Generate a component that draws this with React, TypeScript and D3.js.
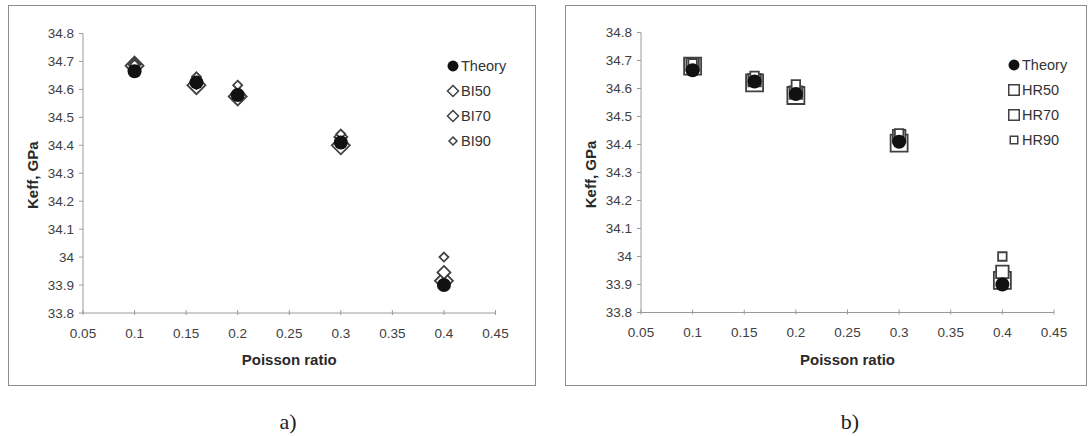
import React from "react";
import * as d3 from "d3";

const poisson = [0.1, 0.16, 0.2, 0.3, 0.4];
const theory = [34.665, 34.625, 34.58, 34.41, 33.9];
const bi50 = [34.685, 34.615, 34.575, 34.4, 33.915];
const bi70 = [34.69, 34.625, 34.585, 34.43, 33.945];
const bi90 = [34.69, 34.645, 34.615, 34.44, 34.0];
const hr50 = [34.68, 34.62, 34.575, 34.405, 33.915];
const hr70 = [34.685, 34.63, 34.585, 34.43, 33.945];
const hr90 = [34.69, 34.645, 34.615, 34.44, 34.0];

const xTicks = [0.05, 0.1, 0.15, 0.2, 0.25, 0.3, 0.35, 0.4, 0.45];
const xTickLabels = ["0.05", "0.1", "0.15", "0.2", "0.25", "0.3", "0.35", "0.4", "0.45"];
const yTicks = [33.8, 33.9, 34.0, 34.1, 34.2, 34.3, 34.4, 34.5, 34.6, 34.7, 34.8];
const yTickLabels = ["33.8", "33.9", "34", "34.1", "34.2", "34.3", "34.4", "34.5", "34.6", "34.7", "34.8"];

const leftNames = ["Theory", "BI50", "BI70", "BI90"];
const rightNames = ["Theory", "HR50", "HR70", "HR90"];

const FONT = "'Liberation Sans', Arial, sans-serif";
const STROKE = "#404040";

type Shape = "diamond" | "square";

function markerPath(shape: Shape, size: number) {
  const h = size / 2;
  if (shape === "diamond") {
    return `M0,${-h}L${h},0L0,${h}L${-h},0Z`;
  }
  return `M${-h},${-h}H${h}V${h}H${-h}Z`;
}

function Panel(props: {
  box: [number, number, number, number];
  plot: [number, number, number, number];
  shape: Shape;
  series: number[][];
  names: string[];
  legendX: number;
  legendY: number[];
  caption: string;
  captionX: number;
}) {
  const { box, plot, shape, series, names, legendX, legendY, caption, captionX } = props;
  const x = d3.scaleLinear().domain([0.05, 0.45]).range([plot[0], plot[1]]);
  const y = d3.scaleLinear().domain([33.8, 34.8]).range([plot[3], plot[2]]);
  const sizes = shape === "diamond" ? [18, 13, 9] : [17, 12.5, 8.5];
  const legendSizes = shape === "diamond" ? [11, 11, 8] : [10.5, 10.5, 7.5];
  const circle = d3.symbol().type(d3.symbolCircle).size(Math.PI * 49)();
  const legendCircle = d3.symbol().type(d3.symbolCircle).size(Math.PI * 30)();
  return (
    <g>
      <rect x={box[0] + 0.5} y={box[1] + 0.5} width={box[2] - box[0]} height={box[3] - box[1]} fill="white" stroke="#8c8c8c" strokeWidth={1} />
      <line x1={plot[0]} x2={plot[0]} y1={plot[2]} y2={plot[3]} stroke="#9a9a9a" strokeWidth={1} />
      <line x1={plot[0]} x2={plot[1]} y1={plot[3]} y2={plot[3]} stroke="#9a9a9a" strokeWidth={1} />
      {yTicks.map((t, i) => (
        <g key={"y" + i}>
          <line x1={plot[0] - 4} x2={plot[0]} y1={y(t)} y2={y(t)} stroke="#9a9a9a" />
          <text x={plot[0] - 9} y={y(t)} dy="0.35em" textAnchor="end" fontFamily={FONT} fontSize={13.5} fill="#404040">
            {yTickLabels[i]}
          </text>
        </g>
      ))}
      {xTicks.map((t, i) => (
        <g key={"x" + i}>
          <line x1={x(t)} x2={x(t)} y1={plot[3] - 3} y2={plot[3] + 2} stroke="#9a9a9a" />
          <text x={x(t)} y={plot[3] + 20} dy="0.35em" textAnchor="middle" fontFamily={FONT} fontSize={13.5} fill="#404040">
            {xTickLabels[i]}
          </text>
        </g>
      ))}
      <text x={(plot[0] + plot[1]) / 2} y={plot[3] + 47} dy="0.35em" textAnchor="middle" fontFamily={FONT} fontSize={15} fontWeight="bold" fill="#2a2a2a">
        Poisson ratio
      </text>
      <text transform={`translate(${plot[0] - 50},${(plot[2] + plot[3]) / 2 + 2}) rotate(-90)`} textAnchor="middle" dy="0.35em" fontFamily={FONT} fontSize={15} fontWeight="bold" fill="#2a2a2a">
        Keff, GPa
      </text>
      {series.slice(1).map((s, si) => (
        <g key={"s" + si}>
          {s.map((v, i) => (
            <path key={i} d={markerPath(shape, sizes[si])} transform={`translate(${x(poisson[i])},${y(v)})`} fill="white" stroke={STROKE} strokeWidth={1.8} />
          ))}
        </g>
      ))}
      {series[0].map((v, i) => (
        <path key={"t" + i} d={circle || ""} transform={`translate(${x(poisson[i])},${y(v)})`} fill="#111" />
      ))}
      {names.map((n, i) => (
        <g key={"l" + i}>
          {i === 0 ? (
            <path d={legendCircle || ""} transform={`translate(${legendX},${legendY[i]})`} fill="#111" />
          ) : (
            <path d={markerPath(shape, legendSizes[i - 1])} transform={`translate(${legendX},${legendY[i]})`} fill="white" stroke={STROKE} strokeWidth={1.5} />
          )}
          <text x={legendX + 8} y={legendY[i]} dy="0.35em" fontFamily={FONT} fontSize={14.5} fill="#333">
            {n}
          </text>
        </g>
      ))}
      <text x={captionX} y={421} dy="0.35em" textAnchor="middle" fontFamily="'Liberation Serif', 'Times New Roman', serif" fontSize={22} fill="#222">
        {caption}
      </text>
    </g>
  );
}

export default function App() {
  return (
    <div style={{ position: "absolute", left: 0, top: 0 }}>
      <svg width={1090} height={436} style={{ display: "block", background: "white" }}>
        <Panel
          box={[8, 5, 535, 385]}
          plot={[83, 495.5, 33.5, 313]}
          shape="diamond"
          series={[theory, bi50, bi70, bi90]}
          names={leftNames}
          legendX={453}
          legendY={[66, 91, 116, 141]}
          caption="a)"
          captionX={288}
        />
        <Panel
          box={[565, 5, 1086, 385]}
          plot={[641, 1054, 32.5, 312.5]}
          shape="square"
          series={[theory, hr50, hr70, hr90]}
          names={rightNames}
          legendX={1014}
          legendY={[65, 90, 115, 140]}
          caption="b)"
          captionX={850}
        />
      </svg>
    </div>
  );
}
